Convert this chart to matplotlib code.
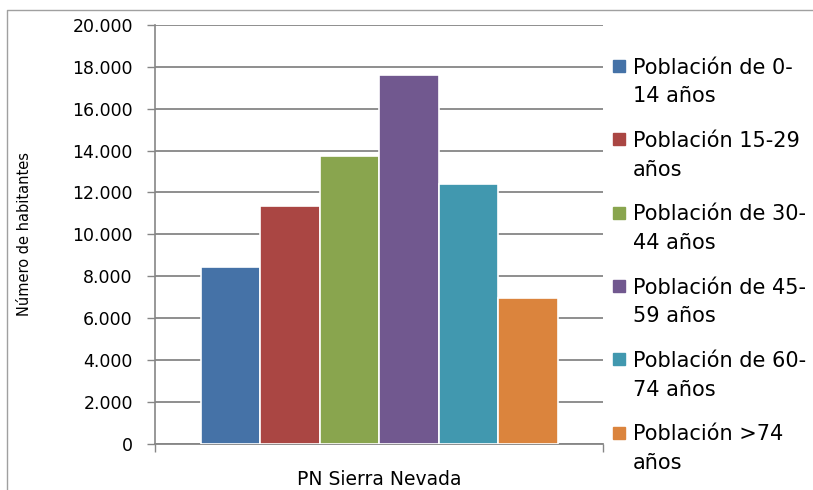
import matplotlib.pyplot as plt
from matplotlib.patches import Rectangle
from matplotlib.lines import Line2D
import numpy as np

# Data
category = 'PN Sierra Nevada'
groups = ['Población de 0-\n14 años', 'Población 15-29\naños', 'Población de 30-\n44 años',
          'Población de 45-\n59 años', 'Población de 60-\n74 años', 'Población >74\naños']
values = [8450, 11350, 13750, 17600, 12400, 6950]
colors = ['#4572A7', '#AA4643', '#89A54E', '#71588F', '#4198AF', '#DB843D']
yticks = np.arange(0, 20001, 2000)

W, H = 813, 490
fig = plt.figure(figsize=(W / 100, H / 100), dpi=100)
ax = fig.add_axes([155 / W, 1 - 443.5 / H, 448 / W, 418.5 / H])

# Bars, one per age group, packed side by side in the single category
n = len(values)
width = 357 / 448 / n
offsets = (np.arange(n) - (n - 1) / 2) * width
for off, v, c in zip(offsets, values, colors):
    ax.bar(off, v, width=width, color=c, edgecolor='white', linewidth=1.2, zorder=3)

ax.set_xlim(-0.5, 0.5)
ax.set_ylim(0, 20000)

# Gridlines and axes
grid_col = '#868686'
ax.set_yticks(yticks)
ax.set_yticklabels([f'{t:,}'.replace(',', '.') for t in yticks], fontsize=12.5)
ax.yaxis.grid(True, color=grid_col, linewidth=1.3, zorder=0)
ax.tick_params(axis='y', length=6, width=1, color=grid_col, pad=10)
for s in ['top', 'right']:
    ax.spines[s].set_visible(False)
ax.spines['left'].set_color(grid_col)
ax.spines['bottom'].set_color(grid_col)
ax.spines['left'].set_linewidth(1.2)
ax.spines['bottom'].set_linewidth(1.3)

ax.set_xticks([0])
ax.set_xticklabels([category], fontsize=13.5)
ax.tick_params(axis='x', which='major', length=0, pad=19)
ax.set_xticks([-0.5, 0.5], minor=True)
ax.tick_params(axis='x', which='minor', length=6, width=1, color=grid_col)

ax.set_ylabel('Número de habitantes', fontsize=10.5)
ax.yaxis.set_label_coords(-(155 - 32) / 448, 0.5)

# Legend drawn by hand so the square sits beside the first line
for i, (lab, c) in enumerate(zip(groups, colors)):
    y0 = 66 + 73.3 * i
    fig.patches.append(Rectangle((613 / W, 1 - (y0 + 6) / H), 12 / W, 12 / H,
                                 transform=fig.transFigure, color=c))
    fig.text(633 / W, 1 - (y0 + 16) / H, lab, fontsize=15, va='center',
             ha='left', linespacing=1.55)

# Outer chart border
fig.lines.append(Line2D([7 / W, 7 / W, 1], [0, 1 - 10 / H, 1 - 10 / H],
                        transform=fig.transFigure, color='#a0a0a0', linewidth=1))

fig.savefig('out.png', dpi=100)
